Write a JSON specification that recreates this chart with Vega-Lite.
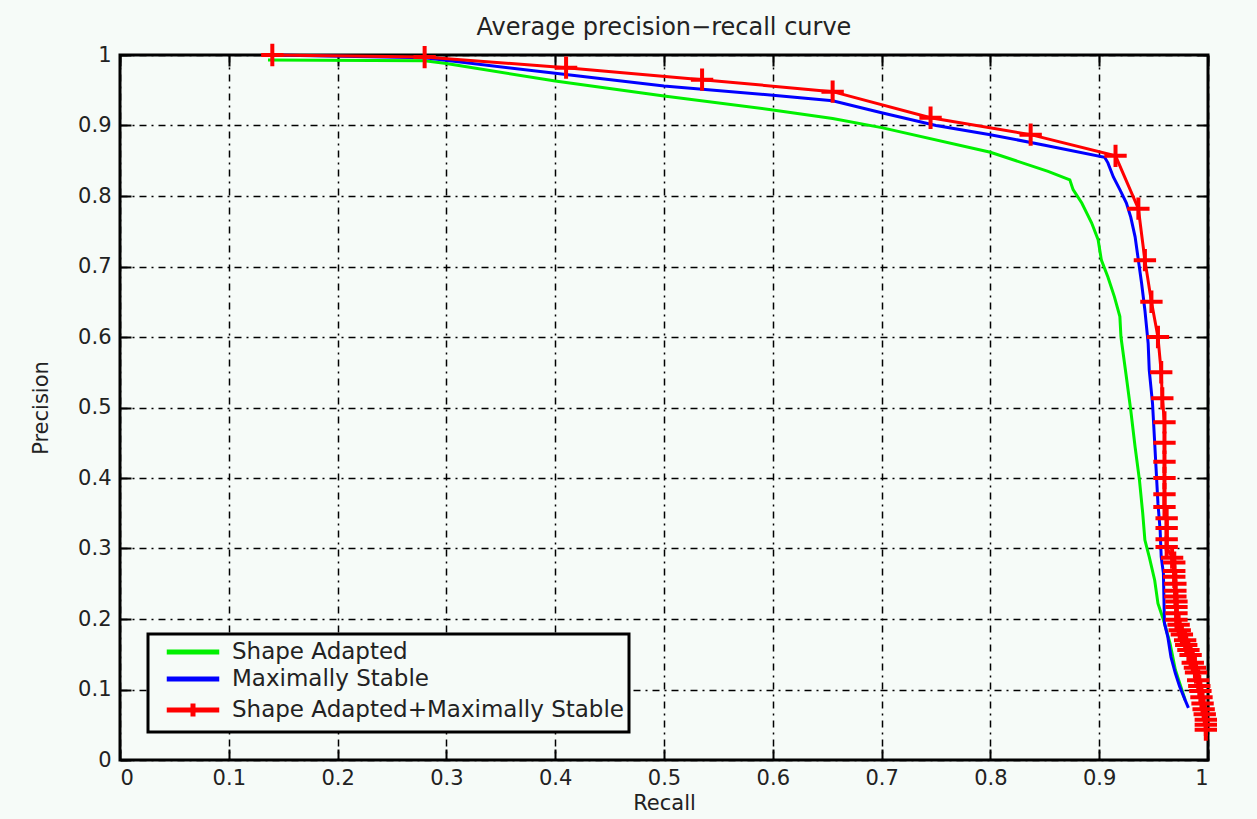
{
  "$schema": "https://vega.github.io/schema/vega-lite/v6.json",
  "width": 1088,
  "height": 705,
  "autosize": {"type": "none"},
  "padding": {"left": 120, "top": 55, "right": 49, "bottom": 59},
  "background": "#f6fbf8",
  "title": {
    "text": "Average precision−recall curve",
    "font": "DejaVu Sans",
    "fontSize": 24,
    "fontWeight": "normal",
    "color": "#222222",
    "offset": -4
  },
  "data": {
    "values": [
      {"series": "Shape Adapted", "i": 1, "recall": 0.136, "precision": 0.993},
      {"series": "Shape Adapted", "i": 2, "recall": 0.28, "precision": 0.992},
      {"series": "Shape Adapted", "i": 3, "recall": 0.3, "precision": 0.988},
      {"series": "Shape Adapted", "i": 4, "recall": 0.4, "precision": 0.963},
      {"series": "Shape Adapted", "i": 5, "recall": 0.5, "precision": 0.942},
      {"series": "Shape Adapted", "i": 6, "recall": 0.6, "precision": 0.922},
      {"series": "Shape Adapted", "i": 7, "recall": 0.655, "precision": 0.91},
      {"series": "Shape Adapted", "i": 8, "recall": 0.7, "precision": 0.897},
      {"series": "Shape Adapted", "i": 9, "recall": 0.8, "precision": 0.862},
      {"series": "Shape Adapted", "i": 10, "recall": 0.853, "precision": 0.835},
      {"series": "Shape Adapted", "i": 11, "recall": 0.873, "precision": 0.823},
      {"series": "Shape Adapted", "i": 12, "recall": 0.876, "precision": 0.809},
      {"series": "Shape Adapted", "i": 13, "recall": 0.884, "precision": 0.79},
      {"series": "Shape Adapted", "i": 14, "recall": 0.893, "precision": 0.762},
      {"series": "Shape Adapted", "i": 15, "recall": 0.899, "precision": 0.738},
      {"series": "Shape Adapted", "i": 16, "recall": 0.902, "precision": 0.709},
      {"series": "Shape Adapted", "i": 17, "recall": 0.908, "precision": 0.685},
      {"series": "Shape Adapted", "i": 18, "recall": 0.914, "precision": 0.657},
      {"series": "Shape Adapted", "i": 19, "recall": 0.919, "precision": 0.629},
      {"series": "Shape Adapted", "i": 20, "recall": 0.92, "precision": 0.6},
      {"series": "Shape Adapted", "i": 21, "recall": 0.925, "precision": 0.543},
      {"series": "Shape Adapted", "i": 22, "recall": 0.929, "precision": 0.496},
      {"series": "Shape Adapted", "i": 23, "recall": 0.933, "precision": 0.444},
      {"series": "Shape Adapted", "i": 24, "recall": 0.937, "precision": 0.397},
      {"series": "Shape Adapted", "i": 25, "recall": 0.94, "precision": 0.35},
      {"series": "Shape Adapted", "i": 26, "recall": 0.942, "precision": 0.312},
      {"series": "Shape Adapted", "i": 27, "recall": 0.946, "precision": 0.288},
      {"series": "Shape Adapted", "i": 28, "recall": 0.951, "precision": 0.255},
      {"series": "Shape Adapted", "i": 29, "recall": 0.954, "precision": 0.222},
      {"series": "Shape Adapted", "i": 30, "recall": 0.959, "precision": 0.199},
      {"series": "Shape Adapted", "i": 31, "recall": 0.965, "precision": 0.166},
      {"series": "Shape Adapted", "i": 32, "recall": 0.97, "precision": 0.128},
      {"series": "Shape Adapted", "i": 33, "recall": 0.974, "precision": 0.109},
      {"series": "Shape Adapted", "i": 34, "recall": 0.979, "precision": 0.085},

      {"series": "Maximally Stable", "i": 1, "recall": 0.14, "precision": 1.0},
      {"series": "Maximally Stable", "i": 2, "recall": 0.28, "precision": 0.996},
      {"series": "Maximally Stable", "i": 3, "recall": 0.4, "precision": 0.974},
      {"series": "Maximally Stable", "i": 4, "recall": 0.5, "precision": 0.956},
      {"series": "Maximally Stable", "i": 5, "recall": 0.6, "precision": 0.943},
      {"series": "Maximally Stable", "i": 6, "recall": 0.655, "precision": 0.935},
      {"series": "Maximally Stable", "i": 7, "recall": 0.7, "precision": 0.918},
      {"series": "Maximally Stable", "i": 8, "recall": 0.75, "precision": 0.9},
      {"series": "Maximally Stable", "i": 9, "recall": 0.8, "precision": 0.887},
      {"series": "Maximally Stable", "i": 10, "recall": 0.85, "precision": 0.872},
      {"series": "Maximally Stable", "i": 11, "recall": 0.905, "precision": 0.855},
      {"series": "Maximally Stable", "i": 12, "recall": 0.908, "precision": 0.847},
      {"series": "Maximally Stable", "i": 13, "recall": 0.913, "precision": 0.827},
      {"series": "Maximally Stable", "i": 14, "recall": 0.919, "precision": 0.809},
      {"series": "Maximally Stable", "i": 15, "recall": 0.925, "precision": 0.79},
      {"series": "Maximally Stable", "i": 16, "recall": 0.929, "precision": 0.77},
      {"series": "Maximally Stable", "i": 17, "recall": 0.933, "precision": 0.742},
      {"series": "Maximally Stable", "i": 18, "recall": 0.936, "precision": 0.709},
      {"series": "Maximally Stable", "i": 19, "recall": 0.939, "precision": 0.676},
      {"series": "Maximally Stable", "i": 20, "recall": 0.942, "precision": 0.638},
      {"series": "Maximally Stable", "i": 21, "recall": 0.945, "precision": 0.591},
      {"series": "Maximally Stable", "i": 22, "recall": 0.946, "precision": 0.553},
      {"series": "Maximally Stable", "i": 23, "recall": 0.949, "precision": 0.506},
      {"series": "Maximally Stable", "i": 24, "recall": 0.951, "precision": 0.45},
      {"series": "Maximally Stable", "i": 25, "recall": 0.952, "precision": 0.421},
      {"series": "Maximally Stable", "i": 26, "recall": 0.954, "precision": 0.364},
      {"series": "Maximally Stable", "i": 27, "recall": 0.956, "precision": 0.326},
      {"series": "Maximally Stable", "i": 28, "recall": 0.957, "precision": 0.288},
      {"series": "Maximally Stable", "i": 29, "recall": 0.959, "precision": 0.265},
      {"series": "Maximally Stable", "i": 30, "recall": 0.96, "precision": 0.194},
      {"series": "Maximally Stable", "i": 31, "recall": 0.963, "precision": 0.175},
      {"series": "Maximally Stable", "i": 32, "recall": 0.966, "precision": 0.146},
      {"series": "Maximally Stable", "i": 33, "recall": 0.97, "precision": 0.123},
      {"series": "Maximally Stable", "i": 34, "recall": 0.974, "precision": 0.104},
      {"series": "Maximally Stable", "i": 35, "recall": 0.979, "precision": 0.085},
      {"series": "Maximally Stable", "i": 36, "recall": 0.982, "precision": 0.074},

      {"series": "Shape Adapted+Maximally Stable", "i": 1, "recall": 0.14, "precision": 1.0},
      {"series": "Shape Adapted+Maximally Stable", "i": 2, "recall": 0.28, "precision": 0.997},
      {"series": "Shape Adapted+Maximally Stable", "i": 3, "recall": 0.41, "precision": 0.982},
      {"series": "Shape Adapted+Maximally Stable", "i": 4, "recall": 0.535, "precision": 0.965},
      {"series": "Shape Adapted+Maximally Stable", "i": 5, "recall": 0.655, "precision": 0.948},
      {"series": "Shape Adapted+Maximally Stable", "i": 6, "recall": 0.745, "precision": 0.911},
      {"series": "Shape Adapted+Maximally Stable", "i": 7, "recall": 0.837, "precision": 0.887},
      {"series": "Shape Adapted+Maximally Stable", "i": 8, "recall": 0.915, "precision": 0.857},
      {"series": "Shape Adapted+Maximally Stable", "i": 9, "recall": 0.936, "precision": 0.782},
      {"series": "Shape Adapted+Maximally Stable", "i": 10, "recall": 0.942, "precision": 0.709},
      {"series": "Shape Adapted+Maximally Stable", "i": 11, "recall": 0.948, "precision": 0.65},
      {"series": "Shape Adapted+Maximally Stable", "i": 12, "recall": 0.954, "precision": 0.6},
      {"series": "Shape Adapted+Maximally Stable", "i": 13, "recall": 0.957, "precision": 0.55},
      {"series": "Shape Adapted+Maximally Stable", "i": 14, "recall": 0.958, "precision": 0.513},
      {"series": "Shape Adapted+Maximally Stable", "i": 15, "recall": 0.96, "precision": 0.479},
      {"series": "Shape Adapted+Maximally Stable", "i": 16, "recall": 0.96, "precision": 0.45},
      {"series": "Shape Adapted+Maximally Stable", "i": 17, "recall": 0.96, "precision": 0.423},
      {"series": "Shape Adapted+Maximally Stable", "i": 18, "recall": 0.96, "precision": 0.4},
      {"series": "Shape Adapted+Maximally Stable", "i": 19, "recall": 0.96, "precision": 0.377},
      {"series": "Shape Adapted+Maximally Stable", "i": 20, "recall": 0.96, "precision": 0.359},
      {"series": "Shape Adapted+Maximally Stable", "i": 21, "recall": 0.962, "precision": 0.343},
      {"series": "Shape Adapted+Maximally Stable", "i": 22, "recall": 0.962, "precision": 0.329},
      {"series": "Shape Adapted+Maximally Stable", "i": 23, "recall": 0.962, "precision": 0.313},
      {"series": "Shape Adapted+Maximally Stable", "i": 24, "recall": 0.962, "precision": 0.302},
      {"series": "Shape Adapted+Maximally Stable", "i": 25, "recall": 0.967, "precision": 0.287},
      {"series": "Shape Adapted+Maximally Stable", "i": 26, "recall": 0.969, "precision": 0.28},
      {"series": "Shape Adapted+Maximally Stable", "i": 27, "recall": 0.969, "precision": 0.268},
      {"series": "Shape Adapted+Maximally Stable", "i": 28, "recall": 0.969, "precision": 0.26},
      {"series": "Shape Adapted+Maximally Stable", "i": 29, "recall": 0.97, "precision": 0.25},
      {"series": "Shape Adapted+Maximally Stable", "i": 30, "recall": 0.97, "precision": 0.24},
      {"series": "Shape Adapted+Maximally Stable", "i": 31, "recall": 0.97, "precision": 0.232},
      {"series": "Shape Adapted+Maximally Stable", "i": 32, "recall": 0.971, "precision": 0.225},
      {"series": "Shape Adapted+Maximally Stable", "i": 33, "recall": 0.971, "precision": 0.217},
      {"series": "Shape Adapted+Maximally Stable", "i": 34, "recall": 0.971, "precision": 0.208},
      {"series": "Shape Adapted+Maximally Stable", "i": 35, "recall": 0.971, "precision": 0.199},
      {"series": "Shape Adapted+Maximally Stable", "i": 36, "recall": 0.973, "precision": 0.192},
      {"series": "Shape Adapted+Maximally Stable", "i": 37, "recall": 0.974, "precision": 0.184},
      {"series": "Shape Adapted+Maximally Stable", "i": 38, "recall": 0.976, "precision": 0.178},
      {"series": "Shape Adapted+Maximally Stable", "i": 39, "recall": 0.979, "precision": 0.17},
      {"series": "Shape Adapted+Maximally Stable", "i": 40, "recall": 0.98, "precision": 0.163},
      {"series": "Shape Adapted+Maximally Stable", "i": 41, "recall": 0.982, "precision": 0.156},
      {"series": "Shape Adapted+Maximally Stable", "i": 42, "recall": 0.984, "precision": 0.149},
      {"series": "Shape Adapted+Maximally Stable", "i": 43, "recall": 0.986, "precision": 0.138},
      {"series": "Shape Adapted+Maximally Stable", "i": 44, "recall": 0.988, "precision": 0.131},
      {"series": "Shape Adapted+Maximally Stable", "i": 45, "recall": 0.989, "precision": 0.124},
      {"series": "Shape Adapted+Maximally Stable", "i": 46, "recall": 0.991, "precision": 0.113},
      {"series": "Shape Adapted+Maximally Stable", "i": 47, "recall": 0.992, "precision": 0.105},
      {"series": "Shape Adapted+Maximally Stable", "i": 48, "recall": 0.993, "precision": 0.098},
      {"series": "Shape Adapted+Maximally Stable", "i": 49, "recall": 0.994, "precision": 0.089},
      {"series": "Shape Adapted+Maximally Stable", "i": 50, "recall": 0.995, "precision": 0.08},
      {"series": "Shape Adapted+Maximally Stable", "i": 51, "recall": 0.996, "precision": 0.072},
      {"series": "Shape Adapted+Maximally Stable", "i": 52, "recall": 0.997, "precision": 0.065},
      {"series": "Shape Adapted+Maximally Stable", "i": 53, "recall": 0.998, "precision": 0.057},
      {"series": "Shape Adapted+Maximally Stable", "i": 54, "recall": 0.998, "precision": 0.05},
      {"series": "Shape Adapted+Maximally Stable", "i": 55, "recall": 0.998, "precision": 0.043}
    ]
  },
  "layer": [
    {
      "mark": {"type": "line", "strokeWidth": 3, "interpolate": "linear"},
      "encoding": {
        "x": {
          "field": "recall", "type": "quantitative",
          "scale": {"domain": [0, 1], "nice": false, "zero": false},
          "axis": {
            "orient": "bottom",
            "values": [0, 0.1, 0.2, 0.3, 0.4, 0.5, 0.6, 0.7, 0.8, 0.9, 1],
            "format": "~g",
            "title": "Recall",
            "grid": true,
            "tickSize": -11,
            "labelPadding": 18,
            "titlePadding": 4
          }
        },
        "y": {
          "field": "precision", "type": "quantitative",
          "scale": {"domain": [0, 1], "nice": false, "zero": false},
          "axis": {
            "orient": "left",
            "values": [0, 0.1, 0.2, 0.3, 0.4, 0.5, 0.6, 0.7, 0.8, 0.9, 1],
            "format": "~g",
            "title": "Precision",
            "grid": true,
            "tickSize": -11,
            "labelPadding": 20,
            "titlePadding": 26
          }
        },
        "color": {
          "field": "series", "type": "nominal",
          "scale": {
            "domain": ["Shape Adapted", "Maximally Stable", "Shape Adapted+Maximally Stable"],
            "range": ["#00f000", "#0000ff", "#ff0000"]
          },
          "legend": {
            "title": null,
            "orient": "bottom-left",
            "offset": 28,
            "padding": 5,
            "strokeColor": "black",
            "fillColor": "#f6fbf8",
            "symbolType": "M-2.5,0H2.5",
            "symbolSize": 441,
            "symbolStrokeWidth": 5,
            "symbolOffset": 27,
            "labelFont": "DejaVu Sans",
            "labelFontSize": 23,
            "labelColor": "#222222",
            "labelOffset": 26,
            "labelLimit": 0,
            "rowPadding": 2,
            "encode": {
              "legend": {"update": {"strokeWidth": {"value": 3}}},
              "symbols": {"update": {"shape": {"signal": "datum.value === 'Shape Adapted+Maximally Stable' ? 'M-2.5,0H2.5M0,-0.62V0.62' : 'M-2.5,0H2.5'"}}}
            }
          }
        },
        "order": {"field": "i", "type": "quantitative"}
      }
    },
    {
      "transform": [{"filter": "datum.series === 'Shape Adapted+Maximally Stable'"}],
      "mark": {"type": "point", "shape": "M-1,0H1M0,-1V1", "filled": false, "stroke": "#ff0000", "strokeWidth": 4, "size": 500, "opacity": 1},
      "encoding": {
        "x": {
          "field": "recall", "type": "quantitative",
          "axis": {"orient": "top", "values": [0, 0.1, 0.2, 0.3, 0.4, 0.5, 0.6, 0.7, 0.8, 0.9, 1], "labels": false, "title": null, "grid": false, "tickSize": -11}
        },
        "y": {
          "field": "precision", "type": "quantitative",
          "axis": {"orient": "right", "values": [0, 0.1, 0.2, 0.3, 0.4, 0.5, 0.6, 0.7, 0.8, 0.9, 1], "labels": false, "title": null, "grid": false, "tickSize": -11}
        }
      }
    }
  ],
  "resolve": {"axis": {"x": "independent", "y": "independent"}},
  "config": {
    "view": {"stroke": "black", "strokeWidth": 3},
    "axis": {
      "domain": false,
      "tickColor": "black",
      "tickWidth": 2,
      "gridColor": "black",
      "gridOpacity": 1,
      "gridWidth": 1.5,
      "gridDash": [7, 5, 2, 5],
      "labelFont": "DejaVu Sans",
      "labelFontSize": 21,
      "labelColor": "#222222",
      "titleFont": "DejaVu Sans",
      "titleFontSize": 21,
      "titleFontWeight": "normal",
      "titleColor": "#222222"
    }
  }
}
